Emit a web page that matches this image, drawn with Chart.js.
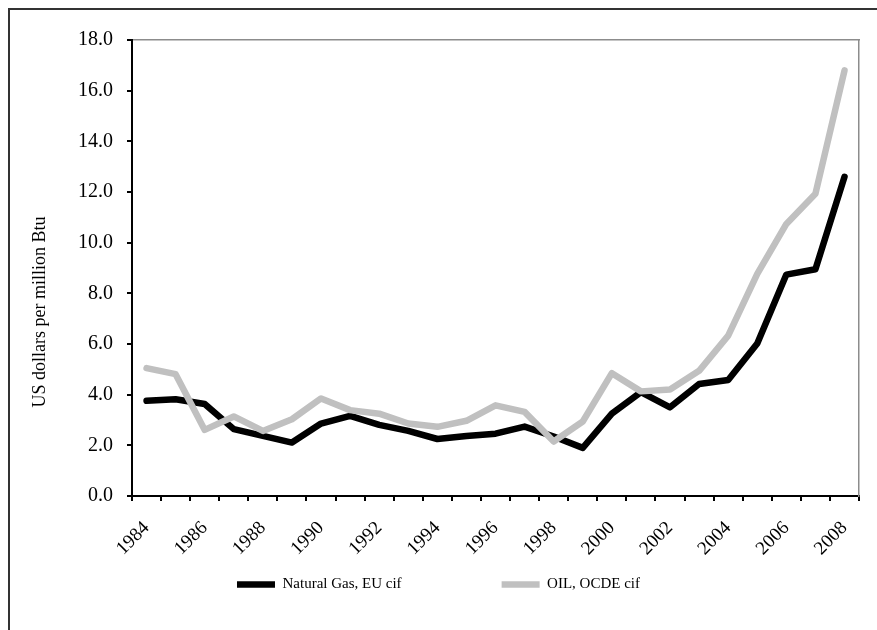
<!DOCTYPE html>
<html>
<head>
<meta charset="utf-8">
<script src="https://cdn.jsdelivr.net/npm/chart.js@4.4.1/dist/chart.umd.min.js"></script>
<style>
  html, body { margin: 0; padding: 0; background: #fff; }
  #frame { position: absolute; left: 8px; top: 8px; width: 900px; height: 700px; border: 2px solid #333; }
  #chart { position: absolute; left: 0; top: 0; }
</style>
</head>
<body>
<div id="frame"></div>
<canvas id="chart" width="877" height="630"></canvas>
<script>
// Data
const years = ['1984', '1985', '1986', '1987', '1988', '1989', '1990', '1991', '1992', '1993', '1994', '1995',
  '1996', '1997', '1998', '1999', '2000', '2001', '2002', '2003', '2004', '2005', '2006', '2007', '2008'];
const gasPrices = [3.76, 3.82, 3.63, 2.64, 2.37, 2.11, 2.86, 3.16, 2.81, 2.57, 2.25, 2.37,
  2.46, 2.74, 2.35, 1.9, 3.25, 4.1, 3.5, 4.42, 4.58, 6.02, 8.74, 8.95, 12.6];
const oilPrices = [5.05, 4.81, 2.61, 3.14, 2.57, 3.03, 3.85, 3.39, 3.25, 2.86, 2.73, 2.97,
  3.58, 3.32, 2.15, 2.94, 4.85, 4.13, 4.2, 4.94, 6.33, 8.77, 10.74, 11.93, 16.8];
const seriesNames = ['Natural Gas, EU cif', 'OIL, OCDE cif'];
const yMin = 0, yMax = 18, yStep = 2;

const serif = 'Liberation Serif';

const ctx = document.getElementById('chart').getContext('2d');
const chart = new Chart(ctx, {
  type: 'line',
  data: {
    labels: years,
    datasets: [{
      label: seriesNames[0],
      data: gasPrices,
      borderColor: '#000000',
      backgroundColor: '#000000',
      borderWidth: 6.5,
      borderCapStyle: 'round',
      borderJoinStyle: 'round',
      pointRadius: 0,
      tension: 0,
      order: 1
    }, {
      label: seriesNames[1],
      data: oilPrices,
      borderColor: '#c0c0c0',
      backgroundColor: '#c0c0c0',
      borderWidth: 6.5,
      borderCapStyle: 'round',
      borderJoinStyle: 'round',
      pointRadius: 0,
      tension: 0,
      order: 0
    }]
  },
  options: {
    responsive: false,
    animation: false,
    layout: {
      padding: { top: 22, right: 0, bottom: 28, left: 0 }
    },
    scales: {
      x: {
        type: 'category',
        offset: true,
        border: { color: '#000', width: 2 },
        grid: { offset: true, drawOnChartArea: false, tickLength: 5, color: '#000', lineWidth: 2 },
        ticks: {
          autoSkip: false,
          minRotation: 45,
          maxRotation: 45,
          padding: 16,
          color: '#000',
          font: { family: serif, size: 19 },
          callback: (val, i) => (i % 2 === 0 ? years[i] : '')
        },
        afterFit: (scale) => { scale.height = 71; }
      },
      xTop: {
        type: 'category',
        position: 'top',
        offset: true,
        border: { color: '#8c8c8c', width: 1.5 },
        grid: { drawOnChartArea: false, drawTicks: false },
        ticks: { display: false },
        afterFit: (scale) => { scale.height = 18; }
      },
      y: {
        min: yMin,
        max: yMax,
        border: { color: '#000', width: 2 },
        grid: { drawOnChartArea: false, tickLength: 5, color: '#000', lineWidth: 2 },
        ticks: {
          stepSize: yStep,
          padding: 14,
          color: '#000',
          font: { family: serif, size: 20 },
          callback: (v) => v.toFixed(1)
        },
        afterFit: (scale) => { scale.width = 71.4; }
      },
      yRight: {
        position: 'right',
        min: yMin,
        max: yMax,
        border: { color: '#8c8c8c', width: 1.5 },
        grid: { drawOnChartArea: false, drawTicks: false },
        ticks: { display: false },
        afterFit: (scale) => { scale.width = 14; }
      }
    },
    plugins: {
      title: {
        display: true,
        position: 'left',
        text: 'US dollars per million Btu',
        color: '#000',
        font: { family: serif, size: 18, weight: 'normal' },
        padding: { top: 29, bottom: 10 }
      },
      legend: {
        position: 'bottom',
        labels: {
          usePointStyle: true,
          pointStyle: 'line',
          pointStyleWidth: 38,
          padding: 10,
          color: '#000',
          font: { family: serif, size: 15 },
          sort: (a, b) => a.datasetIndex - b.datasetIndex,
          generateLabels: (chart) => {
            const items = Chart.defaults.plugins.legend.labels.generateLabels(chart);
            // widen the gap after the first entry, as in the original legend
            items.forEach(item => {
              if (item.datasetIndex === 0) item.text = item.text + '\u00a0'.repeat(24);
            });
            return items;
          }
        }
      },
      tooltip: { enabled: false }
    }
  }
});
</script>
</body>
</html>
